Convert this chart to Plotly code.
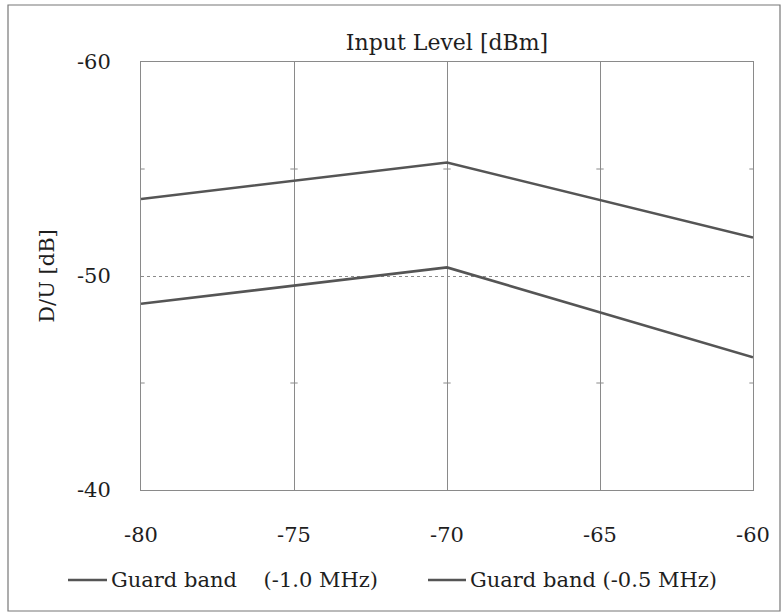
import plotly.graph_objects as go

# Input level sweep [dBm]
input_level = [-80, -70, -60]

# D/U ratio [dB] for each guard band setting
du_guard_1_0 = [-53.6, -55.3, -51.8]
du_guard_0_5 = [-48.7, -50.4, -46.2]

series_names = ["Guard band\u00a0\u00a0\u00a0\u00a0(-1.0 MHz)", "Guard band (-0.5 MHz)"]

x_ticks = [-80, -75, -70, -65, -60]
y_ticks = [-60, -50, -40]

W, H = 782, 614
ML, MR, MT, MB = 141, 29, 62, 124
PW, PH = W - ML - MR, H - MT - MB

FONT = "DejaVu Serif"
INK = "#1e1e1e"
LINE = "#555555"
GRID = "#8a8a8a"


def px_x(px):
    return (px - ML) / PW


def px_y(py):
    return (H - MB - py) / PH


fig = go.Figure()
for name, ys in zip(series_names, [du_guard_1_0, du_guard_0_5]):
    fig.add_trace(go.Scatter(
        x=input_level, y=ys, mode="lines", name=name,
        line=dict(color=LINE, width=2.6), showlegend=False,
    ))

fig.update_layout(
    width=W, height=H,
    margin=dict(l=ML, r=MR, t=MT, b=MB, autoexpand=False),
    paper_bgcolor="white", plot_bgcolor="white",
    font=dict(family=FONT, size=21, color=INK),
    title=dict(text="Input Level [dBm]", x=(ML + PW / 2) / W, xref="container",
               y=1 - 42 / H, yref="container", yanchor="middle",
               xanchor="center", font=dict(family=FONT, size=22, color=INK)),
    showlegend=False,
    xaxis=dict(range=[-80, -60], tickvals=x_ticks, ticktext=[str(v) for v in x_ticks],
               showgrid=True, gridcolor=GRID, gridwidth=1,
               showline=True, linecolor=GRID, linewidth=1, mirror=True,
               ticks="", ticklabelstandoff=26, zeroline=False, automargin=False,
               tickfont=dict(family=FONT, size=21, color=INK)),
    yaxis=dict(range=[-40, -60], tickvals=y_ticks, ticktext=[str(v) for v in y_ticks],
               showgrid=True, gridcolor=GRID, gridwidth=1, griddash="dot",
               showline=True, linecolor=GRID, linewidth=1, mirror=True,
               ticks="", ticklabelstandoff=25, zeroline=False, automargin=False,
               tickfont=dict(family=FONT, size=21, color=INK),
               title=dict(text="D/U [dB]", standoff=16,
                          font=dict(family=FONT, size=21, color=INK))),
)

# Short minor tick marks at -55 and -45 dB along the vertical grid lines
for yv in [-55, -45]:
    for xv in x_ticks:
        fig.add_shape(type="line", xref="x", yref="y",
                      x0=xv - 0.12, x1=xv + 0.12, y0=yv, y1=yv,
                      line=dict(color=GRID, width=1))

# Legend row below the axis: sample line followed by the series name
legend_slots = [(68, 107), (428, 466)]
for (lx0, lx1), name in zip(legend_slots, series_names):
    fig.add_shape(type="line", xref="paper", yref="paper",
                  x0=px_x(lx0), x1=px_x(lx1), y0=px_y(580), y1=px_y(580),
                  line=dict(color=LINE, width=2.6))
    fig.add_annotation(xref="paper", yref="paper", x=px_x(lx1 + 2), y=px_y(580),
                       xanchor="left", yanchor="middle", showarrow=False,
                       text=name, font=dict(family=FONT, size=21, color=INK))

# Outer frame around the whole chart
fig.add_shape(type="rect", xref="paper", yref="paper",
              x0=px_x(8), x1=px_x(780), y0=px_y(611), y1=px_y(5),
              line=dict(color="#777777", width=1.2))

fig.write_html("out.html")
